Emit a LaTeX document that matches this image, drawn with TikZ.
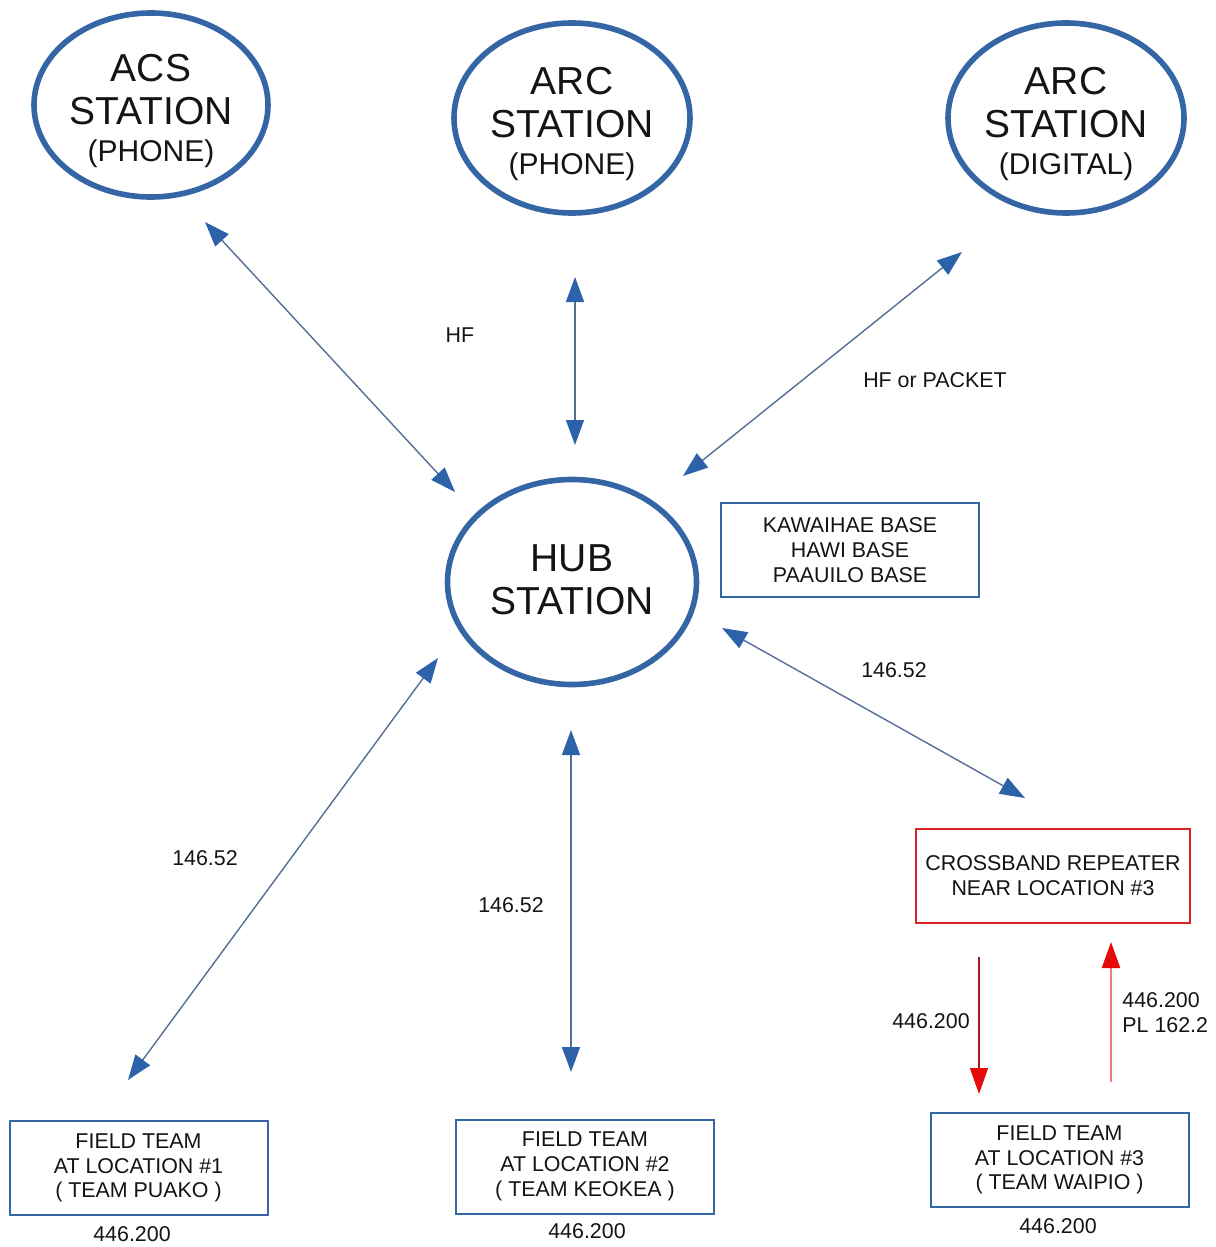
\documentclass[tikz,border=0pt]{standalone}
\usepackage{fontspec}
\setmainfont{Liberation Sans}
\usetikzlibrary{shapes.geometric,arrows.meta,calc}
\definecolor{ellblue}{RGB}{52,101,164}
\definecolor{lineblue}{RGB}{85,110,150}
\definecolor{tipblue}{RGB}{45,98,170}
\definecolor{boxred}{RGB}{220,35,35}
\definecolor{darkred}{RGB}{165,25,25}
\definecolor{pinkred}{RGB}{240,125,125}
\definecolor{tipred}{RGB}{230,10,10}
\definecolor{txt}{RGB}{20,20,20}
\begin{document}
\begin{tikzpicture}[x=0.5pt,y=-0.5pt,
  station/.style={ellipse, draw=ellblue, line width=2.8pt, inner sep=0pt},
  bigtxt/.style={align=center, text=txt, inner sep=0pt, font=\fontsize{19.5}{21.5}\selectfont},
  infobox/.style={rectangle, draw=ellblue, line width=1pt, inner sep=0pt, minimum width=129pt,
    minimum height=47pt, align=center, text=txt, font=\fontsize{10.7}{12.4}\selectfont},
  lbl/.style={text=txt, font=\fontsize{10.7}{12.4}\selectfont, align=center, inner sep=0pt},
  link/.style={draw=lineblue, line width=0.7pt, {Triangle[length=12.5pt,width=9pt,color=tipblue]}-{Triangle[length=12.5pt,width=9pt,color=tipblue]}},
  redtip/.style={-{Triangle[length=13pt,width=9pt,color=tipred]}}
]
\path[use as bounding box, fill=white] (0,0) rectangle (1215,1247);

% stations
\node[station, minimum width=117pt, minimum height=92pt] (acs) at (151,105) {};
\node[station, minimum width=118pt, minimum height=95pt] (arcp) at (572,118) {};
\node[station, minimum width=118pt, minimum height=95pt] (arcd) at (1066,118) {};
\node[station, minimum width=124.5pt, minimum height=102.5pt] (hub) at (572,582) {};

\node[bigtxt] (acsT) at ($(acs)+(0,6)$)
  {ACS\\STATION\\[-3pt]{\fontsize{15}{18}\selectfont (PHONE)}};
\node[bigtxt] (arcpT) at ($(arcp)+(0,6)$)
  {ARC\\STATION\\[-3pt]{\fontsize{15}{18}\selectfont (PHONE)}};
\node[bigtxt] (arcdT) at ($(arcd)+(0,6)$)
  {ARC\\STATION\\[-3pt]{\fontsize{15}{18}\selectfont (DIGITAL)}};
\node[bigtxt] (hubT) at ($(hub)+(0,-2)$) {HUB\\STATION};

% boxes
\node[infobox] (bases) at (850,550) {KAWAIHAE BASE\\HAWI BASE\\PAAUILO BASE};
\node[infobox, draw=boxred, line width=1.3pt, minimum width=137pt] (rep) at (1053,876)
  {CROSSBAND REPEATER\\NEAR LOCATION \#3};
\node[infobox] (ft1) at (138.5,1168) {FIELD TEAM\\AT LOCATION \#1\\( TEAM PUAKO )};
\node[infobox] (ft2) at (585,1166.5) {FIELD TEAM\\AT LOCATION \#2\\( TEAM KEOKEA )};
\node[infobox] (ft3) at (1059.5,1160) {FIELD TEAM\\AT LOCATION \#3\\( TEAM WAIPIO )};

% connector end points
\coordinate (acsE) at (205,222);   \coordinate (hubA) at (455,492);
\coordinate (arcpE) at (575,277);  \coordinate (hubB) at (575,445);
\coordinate (arcdE) at (962,252);  \coordinate (hubC) at (683,476);
\coordinate (hubD) at (722,628);   \coordinate (repE) at (1025,798);
\coordinate (hubE) at (438,658);   \coordinate (ft1E) at (128,1080);
\coordinate (hubF) at (571,730);   \coordinate (ft2E) at (571,1072);
\coordinate (repD) at (979,957);   \coordinate (ft3D) at (979,1094);
\coordinate (ft3U) at (1111,1082); \coordinate (repU) at (1111,942);

\draw[link] (acsE) -- (hubA);
\draw[link] (arcpE) -- (hubB);
\draw[link] (arcdE) -- (hubC);
\draw[link] (hubD) -- (repE);
\draw[link] (hubE) -- (ft1E);
\draw[link] (hubF) -- (ft2E);
\draw[draw=darkred, line width=0.7pt, redtip] (repD) -- (ft3D);
\draw[draw=pinkred, line width=1.1pt, redtip] (ft3U) -- (repU);

% labels
\node[lbl] (lhf) at (460,335) {HF};
\node[lbl] (lhfp) at (935,380) {HF or PACKET};
\node[lbl] (l1) at (894,670) {146.52};
\node[lbl] (l2) at (205,858) {146.52};
\node[lbl] (l3) at (511,905) {146.52};
\node[lbl] (l4) at (931,1021) {446.200};
\node[lbl, align=left, anchor=west] (l5) at (1122,1013) {446.200\\PL 162.2};
\node[lbl] (f1) at (132,1234) {446.200};
\node[lbl] (f2) at (587,1231) {446.200};
\node[lbl] (f3) at (1058,1226) {446.200};
\end{tikzpicture}
\end{document}
